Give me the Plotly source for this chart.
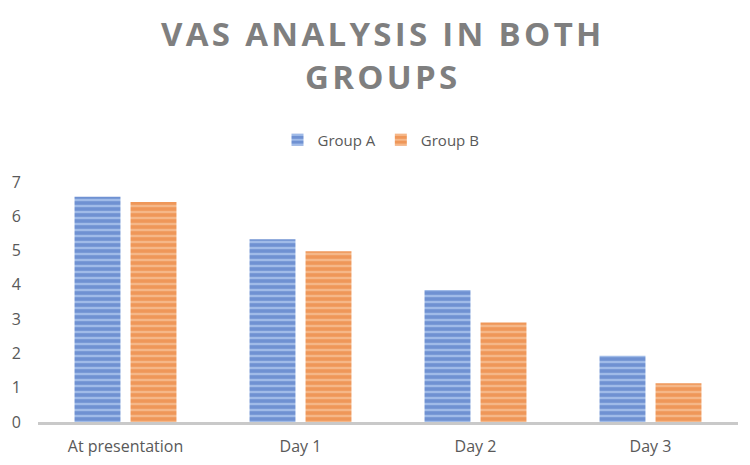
import plotly.graph_objects as go

categories = ["At presentation", "Day 1", "Day 2", "Day 3"]
group_a = [6.57, 5.33, 3.85, 1.93]
group_b = [6.42, 4.98, 2.9, 1.13]
y_ticks = [0, 1, 2, 3, 4, 5, 6, 7]
title_lines = ["VAS ANALYSIS IN BOTH", "GROUPS"]

def spaced(s):
    return "\u200a".join(list(s))

fig = go.Figure()
fig.add_trace(go.Bar(
    x=categories, y=group_a, name="Group A",
    marker=dict(color="#A0BBE8", line=dict(width=0),
                pattern=dict(shape="-", size=6, solidity=0.6, fgcolor="#3D68BC", bgcolor="#A0BBE8", fillmode="overlay")),
))
fig.add_trace(go.Bar(
    x=categories, y=group_b, name="Group B",
    marker=dict(color="#F5B788", line=dict(width=0),
                pattern=dict(shape="-", size=6, solidity=0.6, fgcolor="#E9772A", bgcolor="#F5B788", fillmode="overlay")),
))

fig.add_annotation(text="<br>".join(spaced(l) for l in title_lines), x=0.49, xref="paper", xanchor="center",
                   y=1.529, yref="paper", yanchor="middle", showarrow=False, align="center",
                   font=dict(family="Open Sans", size=33, color="#7F7F7F", weight="bold"))

fig.update_layout(
    width=750, height=465,
    paper_bgcolor="white", plot_bgcolor="white",
    margin=dict(l=38, r=12, t=182, b=43),
    barmode="group", bargap=0.36, bargroupgap=0.18,
    legend=dict(orientation="h", x=0.49, xanchor="center", y=1.175, yanchor="middle",
                font=dict(family="Open Sans", size=15, color="#595959"),
                itemwidth=30, traceorder="normal"),
    font=dict(family="Open Sans", color="#595959"),
)
fig.update_xaxes(showline=True, linecolor="#C9C9C9", linewidth=3, showgrid=False, automargin=False,
                 ticks="", tickfont=dict(size=16, color="#595959"), ticklabelstandoff=8)
fig.update_yaxes(range=[0, 7], tickvals=y_ticks, showgrid=False, zeroline=False, automargin=False,
                 showline=False, ticks="", tickfont=dict(size=16, color="#595959"),
                 ticklabelstandoff=16)

fig.write_html("out.html")
